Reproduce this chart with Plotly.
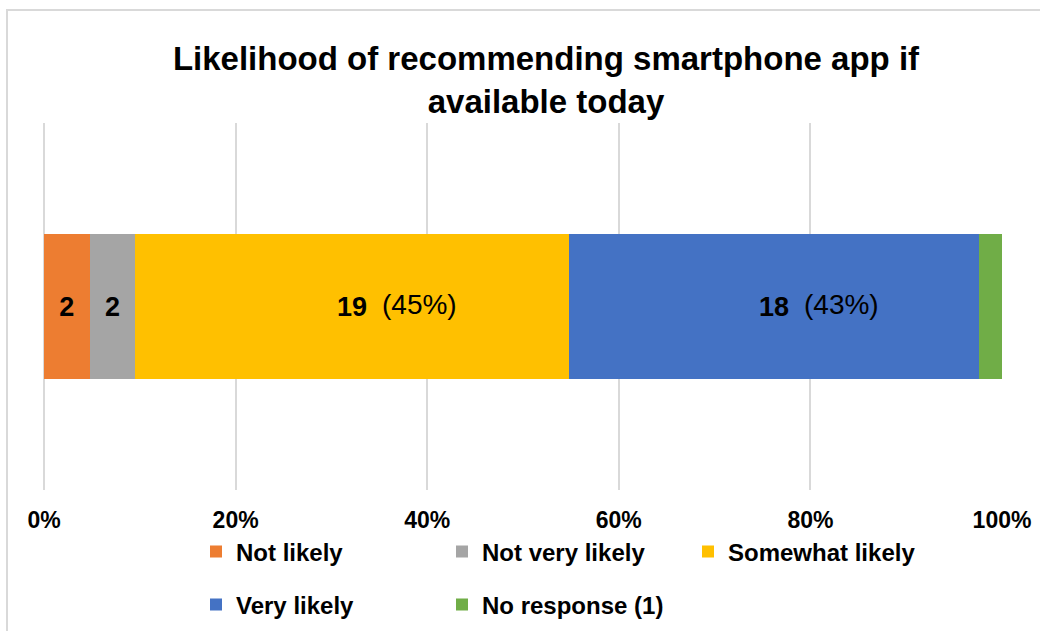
import plotly.graph_objects as go

categories = ["Not likely", "Not very likely", "Somewhat likely", "Very likely", "No response (1)"]
counts = [2, 2, 19, 18, 1]
colors = ["#ED7D31", "#A5A5A5", "#FFC000", "#4472C4", "#70AD47"]
show_count = [True, True, True, True, False]
show_pct = [False, False, True, True, False]
legend_ids = ["legend", "legend", "legend", "legend2", "legend2"]
tick_vals = [0, 20, 40, 60, 80, 100]
tick_text = ["0%", "20%", "40%", "60%", "80%", "100%"]
title_text = "<b>Likelihood of recommending smartphone app if<br>available today</b>"

total = sum(counts)
pcts = [c / total * 100 for c in counts]

FONT = "Liberation Sans, Arial, sans-serif"

fig = go.Figure()
for name, c, p, col, sc, lg in zip(categories, counts, pcts, colors, show_count, legend_ids):
    fig.add_trace(go.Bar(
        x=[p], y=[0], orientation="h", name=name,
        marker=dict(color=col, line=dict(width=0)),
        text=[f"<b>{c}</b>" if sc else ""],
        textposition="inside", insidetextanchor="middle", textangle=0,
        textfont=dict(family=FONT, size=27, color="black"),
        hoverinfo="skip", legend=lg,
    ))

# percentage annotations placed to the right of the bold counts
cum = 0
for c, p, sp in zip(counts, pcts, show_pct):
    if sp:
        fig.add_annotation(
            x=cum + p / 2, y=0, xref="x", yref="y",
            text=f"({round(p):.0f}%)", showarrow=False,
            xanchor="left", yanchor="middle", xshift=28, yshift=2,
            font=dict(family=FONT, size=28, color="black"),
        )
    cum += p

L, R, T, B = 44, 38, 123, 141
W, H = 1040, 631
plot_w = W - L - R
plot_h = H - T - B

def px_to_paper_x(px):
    return (px - L) / plot_w

def px_to_paper_y(py):
    return (H - B - py) / plot_h

fig.add_shape(type="rect", xref="paper", yref="paper",
              x0=px_to_paper_x(7), x1=px_to_paper_x(1100),
              y0=px_to_paper_y(700), y1=px_to_paper_y(10),
              line=dict(color="#d9d9d9", width=2), fillcolor="rgba(0,0,0,0)", layer="below")

legend_common = dict(
    orientation="h", xanchor="left", yanchor="middle",
    entrywidth=201, entrywidthmode="pixels",
    font=dict(family=FONT, size=24, color="black", weight="bold"),
    bgcolor="rgba(0,0,0,0)", itemclick=False, itemdoubleclick=False,
    traceorder="normal",
)

fig.update_layout(
    width=W, height=H,
    margin=dict(l=L, r=R, t=T, b=B, autoexpand=False),
    paper_bgcolor="white", plot_bgcolor="white",
    barmode="stack", bargap=0.605,
    showlegend=True,
    title=dict(text=title_text, x=546 / W, xanchor="center", xref="container",
               y=1 - 70 / H, yanchor="top", yref="container",
               font=dict(family=FONT, size=33, color="black")),
    legend=dict(x=px_to_paper_x(196), y=px_to_paper_y(552), **legend_common),
    legend2=dict(x=px_to_paper_x(196), y=px_to_paper_y(605), **legend_common),
    xaxis=dict(range=[0, 100], tickvals=tick_vals, ticktext=tick_text,
               showgrid=True, gridcolor="#d9d9d9", gridwidth=2,
               zeroline=True, zerolinecolor="#d9d9d9", zerolinewidth=2,
               showline=False, ticks="outside", ticklen=9, tickcolor="rgba(0,0,0,0)",
               tickfont=dict(family=FONT, size=23, color="black", weight="bold"),
               fixedrange=True),
    yaxis=dict(range=[-0.5, 0.5], visible=False, fixedrange=True),
)

fig.write_html("out.html")
